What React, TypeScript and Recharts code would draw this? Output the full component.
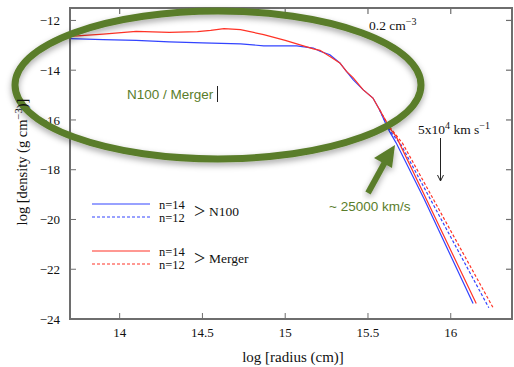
import { Line, LineChart, XAxis, YAxis } from "recharts";

const radiusTicks = [14, 14.5, 15, 15.5, 16];
const densityTicks = [-24, -22, -20, -18, -16, -14, -12];
const radiusDomain: [number, number] = [13.7, 16.37];
const densityDomain: [number, number] = [-24, -11.5];

// log radius / log density
const n100n14Radius = [13.7, 13.9, 14.1, 14.3, 14.5, 14.73, 14.87, 15.07, 15.17, 15.21, 15.27, 15.33, 15.37, 15.41, 15.47, 15.53, 15.57, 15.61, 15.63, 15.67, 15.84, 16.135];
const n100n14Density = [-12.73, -12.77, -12.8, -12.86, -12.9, -12.94, -13.02, -13.02, -13.11, -13.24, -13.38, -13.71, -14.05, -14.38, -14.78, -15.12, -15.59, -16.19, -16.46, -16.92, -19.19, -23.38];
const n100n12Radius = [15.57, 15.61, 15.64, 15.7, 16.23];
const n100n12Density = [-15.59, -16.15, -16.5, -17.0, -23.55];

const mergerN14Radius = [13.7, 13.9, 14.1, 14.3, 14.47, 14.55, 14.63, 14.73, 14.87, 15.0, 15.17, 15.21, 15.27, 15.33, 15.37, 15.41, 15.47, 15.53, 15.57, 15.61, 15.63, 15.67, 15.86, 16.154];
const mergerN14Density = [-12.64, -12.55, -12.44, -12.48, -12.45, -12.4, -12.33, -12.37, -12.57, -12.8, -13.14, -13.2, -13.45, -13.71, -14.05, -14.3, -14.78, -15.12, -15.59, -16.06, -16.32, -16.66, -19.29, -23.38];
const mergerN12Radius = [15.57, 15.61, 15.64, 15.71, 16.256];
const mergerN12Density = [-15.59, -16.06, -16.36, -16.95, -23.55];

const pairs = (r: number[], d: number[]) => r.map((x, i) => ({ x, y: d[i] }));

const BLUE = "#3344ff";
const RED = "#ff3326";
const GREEN = "#5a7d2b";
const FRAME = "#6e6e6e";
const serif = "'Liberation Serif', 'DejaVu Serif', serif";
const sans = "'Liberation Sans', Arial, sans-serif";

// plot box (matches the chart margins / axis sizes below)
const PLOT = { left: 70, top: 8, right: 512, bottom: 319 };
const px = (r: number) => PLOT.left + ((r - radiusDomain[0]) / (radiusDomain[1] - radiusDomain[0])) * (PLOT.right - PLOT.left);
const py = (d: number) => PLOT.top + ((densityDomain[1] - d) / (densityDomain[1] - densityDomain[0])) * (PLOT.bottom - PLOT.top);

const Overlay = () => (
  <svg width={514} height={367} style={{ position: "absolute", left: 0, top: 0, pointerEvents: "none" }}>
    <defs>
      <filter id="shade" x="-20%" y="-20%" width="140%" height="150%">
        <feDropShadow dx="0" dy="3" stdDeviation="3" floodColor="#000" floodOpacity="0.35" />
      </filter>
      <marker id="tip" markerWidth="8" markerHeight="8" refX="7" refY="4" orient="auto" markerUnits="userSpaceOnUse">
        <path d="M1,1 L7,4 L1,7" fill="none" stroke="#222" strokeWidth="1" />
      </marker>
    </defs>
    {/* frame box with inward ticks on top and right */}
    <rect x={PLOT.left} y={PLOT.top} width={PLOT.right - PLOT.left} height={PLOT.bottom - PLOT.top} fill="none" stroke={FRAME} strokeWidth={2} />
    {radiusTicks.map((t) => (
      <path key={`tx${t}`} d={`M${px(t)},${PLOT.top} V${PLOT.top + 6}`} stroke={FRAME} strokeWidth={1.2} />
    ))}
    {densityTicks.map((t) => (
      <path key={`ty${t}`} d={`M${PLOT.right - 6},${py(t)} H${PLOT.right}`} stroke={FRAME} strokeWidth={1.2} />
    ))}
    <ellipse cx={218} cy={85} rx={203} ry={74} fill="none" stroke={GREEN} strokeWidth={7} filter="url(#shade)" />
    <text x={127} y={99} fill={GREEN} fontFamily={sans} fontSize={13.5}>N100 / Merger</text>
    <line x1={217.5} y1={86} x2={217.5} y2={102} stroke="#222" strokeWidth={1} />
    <g filter="url(#shade)">
      <line x1={368} y1={193} x2={385} y2={162} stroke={GREEN} strokeWidth={6} />
      <polygon points="395,145 374,158 392,168" fill={GREEN} />
    </g>
    <text x={329} y={211} fill={GREEN} fontFamily={sans} fontSize={13.5}>~ 25000 km/s</text>
    <text x={369} y={30} fontFamily={serif} fontSize={13.5} fill="#111">
      0.2 cm<tspan dy={-5} fontSize={10}>−3</tspan>
    </text>
    <text x={418} y={134} fontFamily={serif} fontSize={13.5} fill="#111">
      5x10<tspan dy={-5} fontSize={10}>4</tspan>
      <tspan dy={5}> km s</tspan>
      <tspan dy={-5} fontSize={10}>−1</tspan>
    </text>
    <line x1={440.5} y1={138} x2={440.5} y2={181} stroke="#222" strokeWidth={1} markerEnd="url(#tip)" />
    <g fontFamily={serif} fill="#111">
      <line x1={92} y1={204} x2={150} y2={204} stroke={BLUE} strokeWidth={1.2} />
      <line x1={92} y1={217} x2={150} y2={217} stroke={BLUE} strokeWidth={1.2} strokeDasharray="3 2" />
      <text x={159} y={209} fontSize={12.5}>n=14</text>
      <text x={159} y={222} fontSize={12.5}>n=12</text>
      <text x={194} y={218} fontSize={20}>&gt;</text>
      <text x={209} y={216} fontSize={13.5}>N100</text>
      <line x1={92} y1={251} x2={150} y2={251} stroke={RED} strokeWidth={1.2} />
      <line x1={92} y1={264} x2={150} y2={264} stroke={RED} strokeWidth={1.2} strokeDasharray="3 2" />
      <text x={159} y={256} fontSize={12.5}>n=14</text>
      <text x={159} y={269} fontSize={12.5}>n=12</text>
      <text x={194} y={265} fontSize={20}>&gt;</text>
      <text x={209} y={263} fontSize={13.5}>Merger</text>
      <text transform="translate(27,162) rotate(-90)" textAnchor="middle" fontSize={14.5}>
        log [density (g cm<tspan dy={-5} fontSize={10.5}>−3</tspan><tspan dy={5}>)]</tspan>
      </text>
      <text x={293} y={362} textAnchor="middle" fontSize={15}>log [radius (cm)]</text>
    </g>
  </svg>
);

export default function App() {
  const tickStyle = { fontFamily: serif, fontSize: 13, fill: "#111" };
  const frame = { stroke: FRAME, strokeWidth: 1.5 };
  return (
    <div style={{ position: "absolute", left: 0, top: 0, width: 514, height: 367, background: "#fff" }}>
      <LineChart width={514} height={367} margin={{ top: 8, right: 2, bottom: 0, left: 0 }}>
        <XAxis
          type="number"
          dataKey="x"
          domain={radiusDomain}
          ticks={radiusTicks}
          allowDataOverflow
          height={48}
          tickSize={-6}
          tickMargin={15}
          tick={tickStyle}
          axisLine={frame}
          tickLine={{ stroke: FRAME }}
        />
        <YAxis
          type="number"
          domain={densityDomain}
          ticks={densityTicks}
          allowDataOverflow
          width={70}
          tickSize={-6}
          tickMargin={16}
          tick={tickStyle}
          tickFormatter={(v: number) => `−${Math.abs(v)}`}
          axisLine={frame}
          tickLine={{ stroke: FRAME }}
        />
        <Line data={pairs(n100n12Radius, n100n12Density)} dataKey="y" stroke={BLUE} strokeWidth={1.2} strokeDasharray="3 2" dot={false} isAnimationActive={false} />
        <Line data={pairs(mergerN12Radius, mergerN12Density)} dataKey="y" stroke={RED} strokeWidth={1.2} strokeDasharray="3 2" dot={false} isAnimationActive={false} />
        <Line data={pairs(n100n14Radius, n100n14Density)} dataKey="y" stroke={BLUE} strokeWidth={1.2} dot={false} isAnimationActive={false} />
        <Line data={pairs(mergerN14Radius, mergerN14Density)} dataKey="y" stroke={RED} strokeWidth={1.2} dot={false} isAnimationActive={false} />
      </LineChart>
      <Overlay />
    </div>
  );
}
